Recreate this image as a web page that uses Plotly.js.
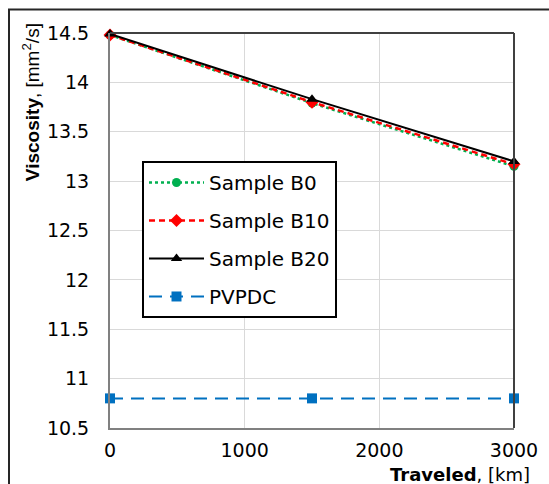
<!DOCTYPE html>
<html>
<head>
<meta charset="utf-8">
<script src="https://cdn.plot.ly/plotly-3.0.1.min.js"></script>
<style>html,body{margin:0;padding:0;background:#fff;}#chart{width:549px;height:484px;}</style>
</head>
<body>
<div id="chart"></div>
<script>
const traveled = [0, 1500, 3000];
const sampleB0 = [14.48, 13.79, 13.15];
const sampleB10 = [14.48, 13.80, 13.17];
const sampleB20 = [14.49, 13.83, 13.20];
const pvpdc = [10.8, 10.8, 10.8];
const seriesNames = ["Sample B0", "Sample B10", "Sample B20", "PVPDC"];
const yTicks = [10.5, 11, 11.5, 12, 12.5, 13, 13.5, 14, 14.5];
const xTicks = [0, 1000, 2000, 3000];

const traces = [
  {x: traveled, y: sampleB0, name: seriesNames[0], legendgroup: "a", mode: "lines+markers",
   line: {color: "#00b050", width: 2.5, dash: "dot"}, marker: {color: "#00b050", symbol: "circle", size: 9}, cliponaxis: false},
  {x: traveled, y: sampleB10, name: seriesNames[1], legendgroup: "b", mode: "lines+markers",
   line: {color: "#ff0000", width: 2.5, dash: "6px,4px"}, marker: {color: "#ff0000", symbol: "diamond", size: 10}, cliponaxis: false},
  {x: traveled, y: sampleB20, name: seriesNames[2], legendgroup: "c", mode: "lines+markers",
   line: {color: "#000000", width: 2}, marker: {color: "#000000", symbol: "triangle-up", size: 10}, cliponaxis: false},
  {x: traveled, y: pvpdc, name: seriesNames[3], legendgroup: "d", mode: "lines+markers",
   line: {color: "#0070c0", width: 2, dash: "13px,8px"}, marker: {color: "#0070c0", symbol: "square", size: 10}, cliponaxis: false}
];

const layout = {
  width: 549, height: 484,
  margin: {l: 110, r: 35, t: 33, b: 56},
  paper_bgcolor: "#ffffff", plot_bgcolor: "#ffffff",
  font: {family: "DejaVu Sans", size: 19, color: "#000000"},
  showlegend: true,
  legend: {x: 0.0792, y: 0.676, xanchor: "left", yanchor: "top",
    bordercolor: "#000000", borderwidth: 2, bgcolor: "#ffffff",
    font: {family: "DejaVu Sans", size: 20, color: "#000000"},
    traceorder: "grouped", tracegroupgap: 9, itemwidth: 55, entrywidth: 145},
  xaxis: {range: [0, 3000], tickvals: xTicks, ticktext: xTicks.map(String),
    showgrid: true, gridcolor: "#d9d9d9", gridwidth: 1,
    showline: true, linecolor: "#808080", linewidth: 2, zeroline: false,
    ticks: "", ticklabelstandoff: 4, tickfont: {family: "DejaVu Sans", size: 19}},
  yaxis: {range: [10.5, 14.5], tickvals: yTicks, ticktext: yTicks.map(String),
    showgrid: true, gridcolor: "#d9d9d9", gridwidth: 1,
    showline: true, linecolor: "#808080", linewidth: 2, zeroline: false,
    ticks: "", ticklabelstandoff: 15, tickfont: {family: "DejaVu Sans", size: 19}},
  shapes: [
    {type: "line", xref: "paper", yref: "paper", x0: 0, x1: 1, y0: 1, y1: 1, line: {color: "#404040", width: 2}},
    {type: "line", xref: "paper", yref: "paper", x0: 1, x1: 1, y0: 0, y1: 1, line: {color: "#404040", width: 2}},
    {type: "rect", xref: "paper", yref: "paper", x0: -0.25, x1: 1.12, y0: -0.16, y1: 1.0595, line: {color: "#262626", width: 2}}
  ],
  annotations: [
    {text: "<b>Viscosity</b>, [mm<sup>2</sup>/s]", xref: "paper", yref: "paper", x: -0.1955, y: 0.825,
     xanchor: "center", yanchor: "middle", textangle: -90, showarrow: false,
     font: {family: "Liberation Sans", size: 19, color: "#000000"}},
    {text: "<b>Traveled</b>, [km]", xref: "paper", yref: "paper", x: 1.0446, y: -0.117,
     xanchor: "right", yanchor: "middle", showarrow: false,
     font: {family: "DejaVu Sans", size: 18, color: "#000000"}}
  ]
};

Plotly.newPlot("chart", traces, layout, {displayModeBar: false, staticPlot: true});
</script>
</body>
</html>
